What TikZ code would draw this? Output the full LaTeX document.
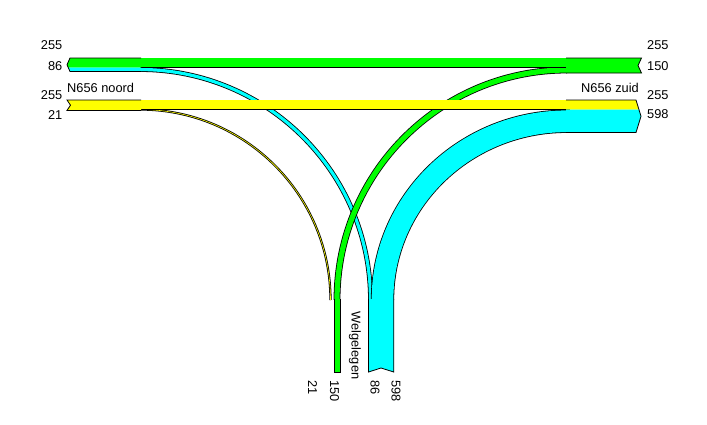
\documentclass[tikz,border=0pt]{standalone}
\usepackage{fontspec}
\setmainfont{Liberation Sans}
\usetikzlibrary{calc}
\definecolor{FlujoVerde}{RGB}{0,255,0}
\definecolor{FlujoCian}{RGB}{0,255,255}
\definecolor{FlujoAmarillo}{RGB}{255,255,0}
\tikzset{
    flujo/.style={line width=0.8pt, draw=black, double=#1},
    borde/.style={line width=0.8pt, draw=black, line join=miter},
    cifra/.style={font=\fontsize{12.8}{14}\selectfont, inner sep=0pt}
}

\begin{document}
\begin{tikzpicture}[x=1pt, y=-1pt]

\useasboundingbox (0,0) rectangle (707,424);

\coordinate (CN) at (140,300);
\coordinate (CZ) at (567,300);

% Giros: primero, para que los tramos rectos queden encima
\draw[flujo=FlujoCian, double distance=3.2pt]
    ($(CN)+(0,-230.5)$) arc[start angle=-90, end angle=0, radius=230.5];
\draw[flujo=FlujoAmarillo, double distance=0.6pt]
    ($(CN)+(0,-190.5)$) arc[start angle=-90, end angle=0, radius=190.5];
\draw[flujo=FlujoVerde, double distance=5.2pt]
    ($(CZ)+(-230,0)$) arc[start angle=180, end angle=270, radius=230];
\draw[flujo=FlujoCian, double distance=21.7pt]
    ($(CZ)+(-184.5,0)$) arc[start angle=180, end angle=270, x radius=184.5, y radius=178.75];

% Tramos rectos
\draw[flujo=FlujoVerde, double distance=8.7pt] (140,62.75) -- (570,62.75);
\draw[flujo=FlujoAmarillo, double distance=8.7pt] (140,104.75) -- (570,104.75);

% Ramal N656 noord
\fill[FlujoVerde] (141,58) -- (70,58) -- (67,64.75) -- (68.2,67.5) -- (141,67.5) -- cycle;
\fill[FlujoCian] (141,67.5) -- (68.2,67.5) -- (70,71.5) -- (141,71.5) -- cycle;
\draw[borde] (141,58) -- (70,58) -- (67,64.75) -- (70,71.5) -- (141,71.5);

\fill[FlujoAmarillo] (141,100) -- (67,100) -- (70.5,105.2) -- (67,110.4) -- (141,110.4) -- cycle;
\draw[borde] (141,100) -- (67,100) -- (70.5,105.2) -- (67,110.4) -- (141,110.4);

% Ramal N656 zuid
\fill[FlujoVerde] (566,58) -- (641.5,58) -- (638,65.5) -- (641.5,73) -- (566,73) -- cycle;
\draw[borde] (566,58) -- (641.5,58) -- (638,65.5) -- (641.5,73) -- (566,73);

\fill[FlujoAmarillo] (566,100) -- (636,100) -- (638.9,109.5) -- (566,109.5) -- cycle;
\fill[FlujoCian] (566,109.5) -- (638.9,109.5) -- (641,116.25) -- (636,132.5) -- (566,132.5) -- cycle;
\draw[borde] (566,100) -- (636,100) -- (641,116.25) -- (636,132.5) -- (566,132.5);

% Ramal Welgelegen
\fill[FlujoVerde] (334,299) rectangle (340,372.5);
\draw[borde] (334,299) -- (334,372.5) -- (340,372.5) -- (340,299);

\fill[FlujoCian] (368.5,299) -- (393.75,299) -- (393.75,372) -- (381,368) -- (368.5,372) -- cycle;
\draw[borde] (368.5,299) -- (368.5,372) -- (381,368) -- (393.75,372) -- (393.75,299);

% Textos
\node[cifra, anchor=base east] (noordA) at (62.5,49.5) {255};
\node[cifra, anchor=base east] (noordB) at (62.5,70.5) {86};
\node[cifra, anchor=base east] (noordC) at (62.5,99.5) {255};
\node[cifra, anchor=base east] (noordD) at (62.5,119.3) {21};
\node[cifra, anchor=base west] (noord) at (67,92.6) {N656 noord};

\node[cifra, anchor=base west] (zuidA) at (647,49.5) {255};
\node[cifra, anchor=base west] (zuidB) at (647,70) {150};
\node[cifra, anchor=base west] (zuidC) at (647,99) {255};
\node[cifra, anchor=base west] (zuidD) at (647,118.3) {598};
\node[cifra, anchor=base east] (zuid) at (639,92.3) {N656 zuid};

\node[cifra, anchor=base west, rotate=-90] (welA) at (308,380) {21};
\node[cifra, anchor=base west, rotate=-90] (welB) at (330,380) {150};
\node[cifra, anchor=base west, rotate=-90] (welC) at (370.5,380) {86};
\node[cifra, anchor=base west, rotate=-90] (welD) at (391.5,380) {598};
\node[cifra, anchor=base west, rotate=-90] (wel) at (351.5,311.7) {Welgelegen};

\end{tikzpicture}
\end{document}
